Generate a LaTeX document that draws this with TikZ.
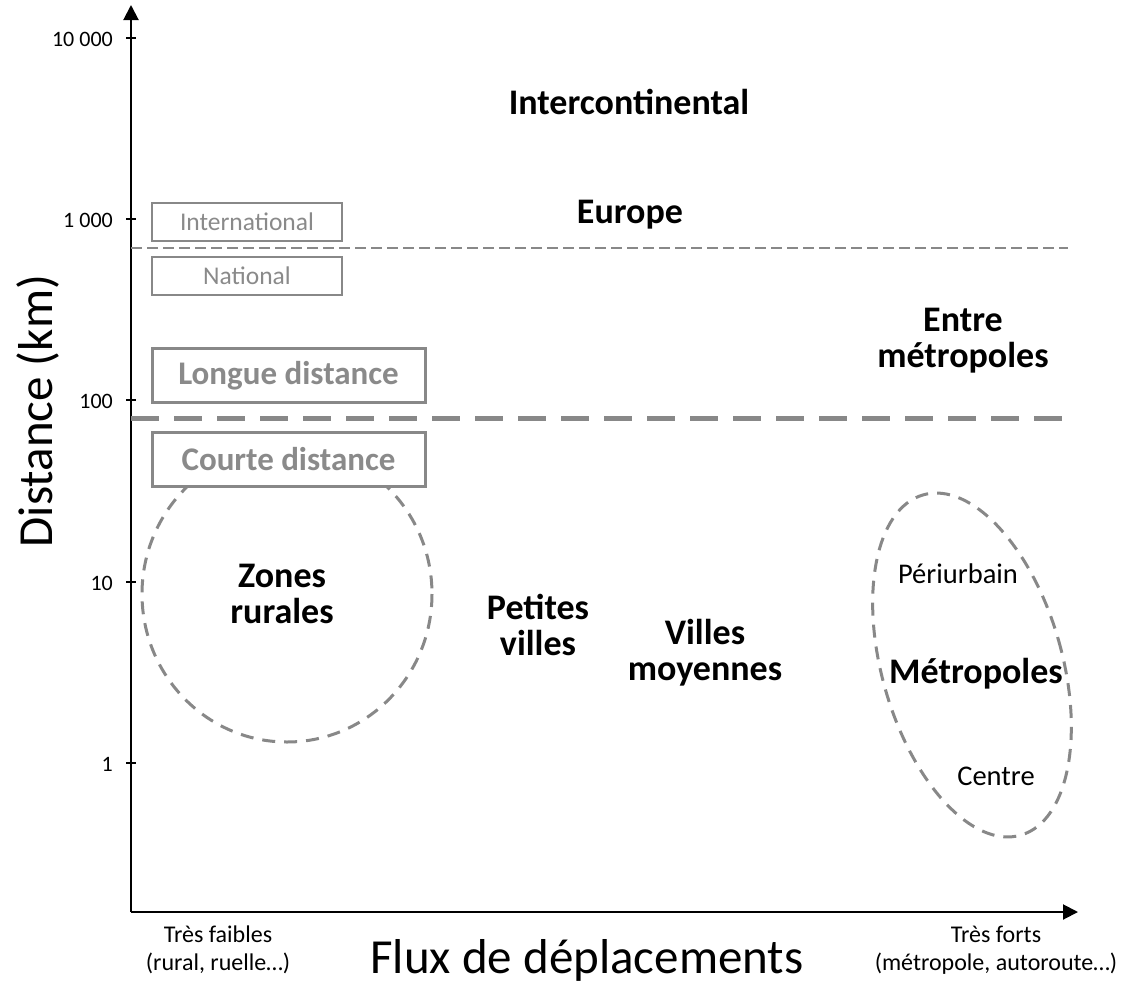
\documentclass[tikz,border=0pt]{standalone}
\usepackage{fontspec}
\setmainfont{Carlito}
\usetikzlibrary{arrows.meta}
\definecolor{lgray}{HTML}{888888}
\definecolor{tgray}{HTML}{8A8A8A}
\begin{document}
\begin{tikzpicture}[x=1pt,y=-1pt,
  axisline/.style={line width=2pt,-{Triangle[length=15pt,width=15pt]}},
  tickmark/.style={line width=1.5pt},
  ticklab/.style={anchor=base east,inner sep=0pt,font=\fontsize{22}{26}\selectfont},
  scalebox/.style={draw=lgray,line width=1.5pt,fill=white,text=tgray,minimum width=190pt,minimum height=38pt,inner sep=0pt,font=\fontsize{25.5}{28}\selectfont},
  rangebox/.style={draw=lgray,line width=3pt,fill=white,text=tgray,minimum width=273pt,minimum height=54pt,inner sep=0pt,font=\bfseries\fontsize{33}{36}\selectfont},
  zoneline/.style={draw=lgray,line width=3pt,dash pattern=on 13pt off 9pt},
  thinsep/.style={draw=lgray,line width=2pt,dash pattern=on 11pt off 5pt},
  thicksep/.style={draw=lgray,line width=5pt,dash pattern=on 28pt off 15pt},
  biglab/.style={anchor=base,align=center,inner sep=0pt,font=\bfseries\fontsize{36}{36}\selectfont},
  smalllab/.style={anchor=base,align=center,inner sep=0pt,font=\fontsize{28.5}{32}\selectfont},
  footlab/.style={anchor=base,align=center,inner sep=0pt,font=\fontsize{24}{28}\selectfont},
  axislab/.style={inner sep=0pt,font=\fontsize{49}{54}\selectfont}]
\useasboundingbox (0,0) rectangle (1127,985);
\fill[white] (0,0) rectangle (1127,985);

% axes
\coordinate (O) at (131,912);
\coordinate (ytip) at (131,5);
\coordinate (xtip) at (1078,912);
\draw[axisline] (O) -- (ytip);
\draw[axisline] (O) -- (xtip);

% ticks
\foreach \yy/\lab/\nm in {38/10 000/a,219/1 000/b,400/100/c,582/10/d,763/1/e}{
  \coordinate (t\nm l) at (126,\yy);
  \coordinate (t\nm r) at (136,\yy);
  \draw[tickmark] (t\nm l) -- (t\nm r);
  \node[ticklab] (tl\nm) at (113,\yy+8) {\lab};
}

% separators
\coordinate (s1a) at (131,248);
\coordinate (s1b) at (1068,248);
\draw[thinsep] (s1a) -- (s1b);
\coordinate (s2a) at (131,418);
\coordinate (s2b) at (1072,418);
\draw[thicksep] (s2a) -- (s2b);

% zones
\coordinate (zc) at (287,594);
\draw[zoneline] (zc) ellipse [x radius=145, y radius=148];
\coordinate (mc) at (972,665);
\draw[zoneline,rotate around={16:(mc)}] (mc) ellipse [x radius=90, y radius=177];

% scale boxes
\node[scalebox] (intl) at (247,222) {International};
\node[scalebox] (natl) at (247,276) {National};
\node[rangebox] (longue) at (288.5,375.5) {Longue distance};
\node[rangebox] (courte) at (288.5,459) {Courte distance};

% labels (base = baseline of last line)
\node[biglab] (inter) at (629,114) {Intercontinental};
\node[biglab] (europe) at (630,223) {Europe};
\node[biglab] (entre) at (963,367) {Entre\\métropoles};
\node[biglab] (zones) at (282,623) {Zones\\rurales};
\node[biglab] (petites) at (538,655) {Petites\\villes};
\node[biglab] (villes) at (705,680) {Villes\\moyennes};
\node[biglab] (metro) at (976,683) {Métropoles};
\node[smalllab] (peri) at (958,583) {Périurbain};
\node[smalllab] (centre) at (996,785) {Centre};

% axis labels
\node[axislab,rotate=90] (ylab) at (38,411) {Distance (km)};
\node[axislab,anchor=base] (xlab) at (587,973) {Flux de déplacements};
\node[footlab] (faibles) at (218,970) {Très faibles\\(rural, ruelle…)};
\node[footlab] (forts) at (996,970) {Très forts\\(métropole, autoroute…)};
\end{tikzpicture}
\end{document}
